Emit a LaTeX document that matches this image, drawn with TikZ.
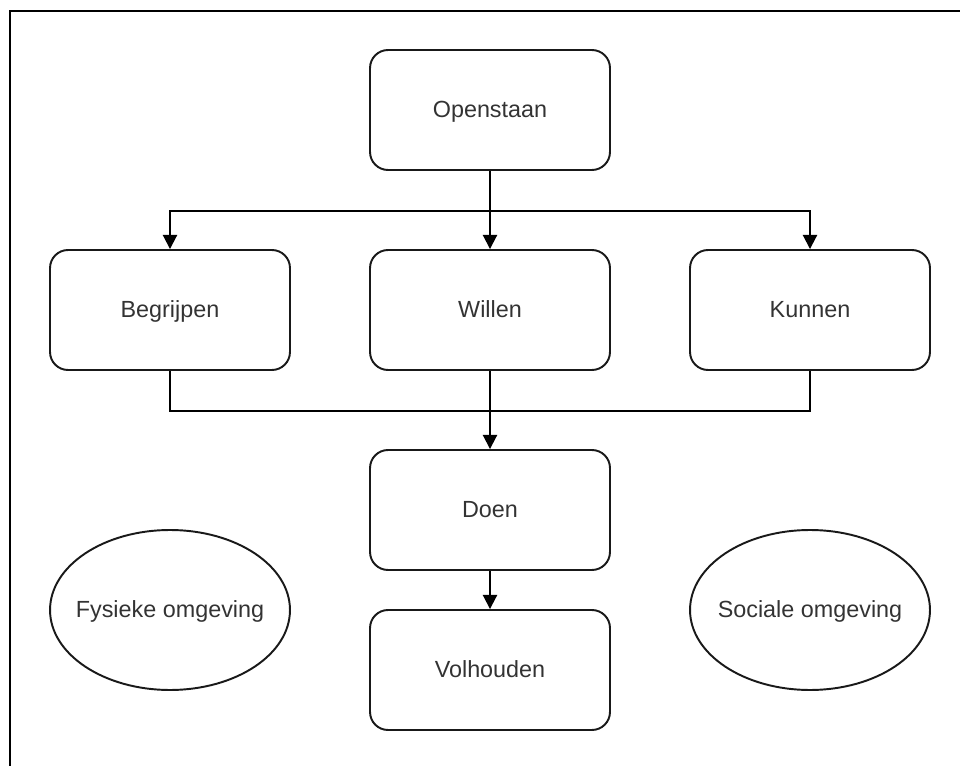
\documentclass[tikz,border=0pt]{standalone}
\usepackage{fontspec}
\setmainfont{Liberation Sans}
\usepackage{tikz}
\usepackage{xcolor}
\usetikzlibrary{arrows.meta,shapes.geometric}

\tikzset{
  tekst/.style={text=black!80, font=\fontsize{13.3}{16}\selectfont,
    text height=0.92em, text depth=0.02em},
  box/.style={draw=black!90, line width=1.1pt, rounded corners=0.36cm,
    minimum width=4.8cm, minimum height=2.4cm, inner sep=0pt, tekst},
  omg/.style={ellipse, draw=black!90, line width=1.1pt,
    minimum width=4.8cm, minimum height=3.2cm, inner sep=0pt},
  arr/.style={-{Triangle[length=8pt,width=8pt]}, line width=1.1pt},
  lijn/.style={line width=1.1pt}
}

\begin{document}
\begin{tikzpicture}[x=0.02cm,y=-0.02cm]
        \useasboundingbox (0,0) rectangle (960,766);
        \draw[line width=1.4pt] (10,766) -- (10,11) -- (960,11);

        \node[box] (open) at (490,110) {Openstaan};
        \node[box] (begr) at (170,310) {Begrijpen};
        \node[box] (willen) at (490,310) {Willen};
        \node[box] (kunnen) at (810,310) {Kunnen};
        \node[box] (doen) at (490,510) {Doen};
        \node[box] (volh) at (490,670) {Volhouden};
        \node[omg, label={[tekst]center:Fysieke omgeving}] (fysiek) at (170,610) {};
        \node[omg, label={[tekst]center:Sociale omgeving}] (sociaal) at (810,610) {};

        \draw[arr] (open.south) -- ++(0,40) -| (begr.north);
        \draw[arr] (open.south) -- ++(0,40) -| (kunnen.north);
        \draw[arr] (open) -- (willen);
        \draw[lijn] (begr.south) -- ++(0,40) -| (kunnen.south);
        \draw[arr] (willen) -- (doen);
        \draw[arr] (doen) -- (volh);
\end{tikzpicture}
\end{document}
